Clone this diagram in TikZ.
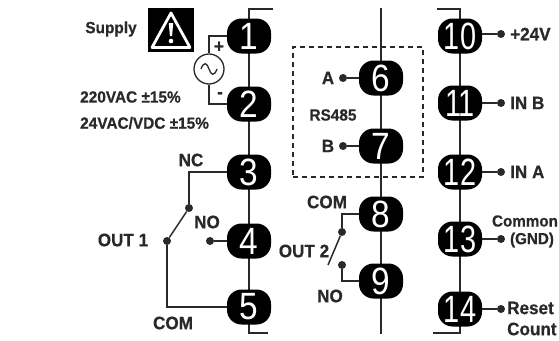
\documentclass[tikz,border=0pt]{standalone}
\usepackage{fontspec}
\setmainfont{Liberation Sans}[BoldFeatures={FakeBold=0.6,FakeStretch=0.95}]
\definecolor{ink}{HTML}{2B2829}
\tikzset{
  term/.style={fill=black,rounded corners=14.5pt,minimum width=44pt,minimum height=35pt,inner sep=0pt,text=white,font=\fontsize{38}{38}\selectfont},
  wire/.style={draw=ink,line width=1.5pt},
  dotn/.style={circle,fill=ink,minimum size=8pt,inner sep=0pt},
  lab/.style={inner sep=0pt,text=ink,font=\fontsize{18}{19}\bfseries\selectfont},
  labm/.style={inner sep=0pt,text=ink,font=\fontsize{16.2}{17}\bfseries\selectfont},
  labs/.style={inner sep=0pt,text=ink,font=\fontsize{16}{17}\bfseries\selectfont},
}
\newcommand{\dg}[1]{\scalebox{0.88}[1]{#1}}
\newcommand{\dgg}[1]{\scalebox{0.76}[1]{#1}}
\begin{document}
\begin{tikzpicture}[x=1pt,y=-1pt]
\useasboundingbox (0,0) rectangle (559,340);
% dashed frame
\node[draw=ink,line width=1.3pt,minimum width=130pt,minimum height=130pt,inner sep=0pt,dash pattern=on 5pt off 4pt] (rsbox) at (358,112) {};
% stub coordinates
\coordinate (ltop) at (249,9); \coordinate (ltopr) at (273,9);
\coordinate (lbot) at (249,333); \coordinate (lbotr) at (268,333);
\coordinate (mtop) at (381,8); \coordinate (mbot) at (381,334);
\coordinate (rtop) at (460,9); \coordinate (rtopl) at (437,9);
\coordinate (rbot) at (460,333); \coordinate (rbotl) at (433,333);
% spines
\draw[wire] (ltopr) -- (ltop) -- (lbot) -- (lbotr);
\draw[wire] (mtop) -- (mbot);
\draw[wire] (rtopl) -- (rtop) -- (rbot) -- (rbotl);
% terminals
\node[term] (t1) at (249,36) {\dg{1}};
\node[term] (t2) at (249,104) {\dg{2}};
\node[term] (t3) at (249,172) {\dg{3}};
\node[term] (t4) at (249,241) {\dg{4}};
\node[term] (t5) at (249,307) {\dg{5}};
\node[term] (t6) at (381,78) {\dg{6}};
\node[term] (t7) at (381,146) {\dg{7}};
\node[term] (t8) at (381,214) {\dg{8}};
\node[term] (t9) at (381,281) {\dg{9}};
\node[term] (t10) at (460,36) {\dgg{10}};
\node[term] (t11) at (460,103) {\dgg{11}};
\node[term] (t12) at (460,172) {\dgg{12}};
\node[term] (t13) at (460,239) {\dgg{13}};
\node[term] (t14) at (460,309) {\dgg{14}};
% warning sign
\node[fill=black,minimum width=46pt,minimum height=44pt,inner sep=0pt] (warn) at (171,30) {};
\draw[white,line width=2.8pt,line join=round] (171,13) -- (190,47.5) -- (152,47.5) -- cycle;
\fill[white] (168.8,23) -- (173.2,23) -- (172.1,36) -- (169.9,36) -- cycle;
\fill[white] (171,41) circle (2.3pt);
% supply
\node[circle,draw=ink,line width=1.3pt,minimum size=30pt,inner sep=0pt,fill=white] (ac) at (209,69) {};
\draw[ink,line width=1.3pt] (201,69) .. controls (204,61) and (207,63) .. (209,69) .. controls (211,75) and (214,77) .. (217,69);
\draw[wire] (t1.west) -| (ac.north);
\draw[wire] (t2.west) -| (ac.south);
\node[lab] (plus) at (219,47) {+};
\node[lab] (minus) at (220,95) {-};
\node[labm] (supply) at (111,29) {Supply};
\node[labm,anchor=west] (v220) at (80,97) {220VAC ±15\%};
\node[labm,anchor=west] (v24) at (80,123) {24VAC/VDC ±15\%};
% out 1
\node[dotn] (o1nc) at (189,208) {};
\node[dotn] (o1c) at (167,241) {};
\node[dotn] (o1no) at (210,241) {};
\draw[wire] (t3.west) -| (o1nc);
\draw[wire] (o1nc) -- (o1c);
\draw[wire] (o1no) -- (t4);
\draw[wire] (o1c) |- (t5.west);
\node[lab] (nc) at (191,160) {NC};
\node[lab] (no1) at (207,222) {NO};
\node[lab] (out1) at (123,240) {OUT 1};
\node[lab] (com1) at (173,323) {COM};
% rs485
\node[dotn] (da) at (343,78) {};
\node[dotn] (db) at (343,146) {};
\draw[wire] (da) -- (t6);
\draw[wire] (db) -- (t7);
\node[lab] (la) at (328,78) {A};
\node[lab] (lb) at (328,146) {B};
\node[labm] (rs) at (333,115) {RS485};
% out 2
\node[dotn] (o2c) at (342,232) {};
\node[dotn] (o2no) at (342,265) {};
\coordinate (o2end) at (328,265);
\draw[wire] (t8.west) -| (o2c);
\draw[wire] (t9.west) -| (o2no);
\draw[wire] (o2c) -- (o2end);
\node[lab] (com2) at (327,202) {COM};
\node[lab] (out2) at (304,251) {OUT 2};
\node[lab] (no2) at (330,296) {NO};
% right side
\node[dotn] (d10) at (501,34) {};
\node[dotn] (d11) at (501,103) {};
\node[dotn] (d12) at (501,172) {};
\node[dotn] (d13) at (501,239) {};
\node[dotn] (d14) at (501,309) {};
\draw[wire] (t10.east |- d10) -- (d10);
\draw[wire] (t11) -- (d11);
\draw[wire] (t12) -- (d12);
\draw[wire] (t13) -- (d13);
\draw[wire] (t14) -- (d14);
\node[lab,anchor=west] (l10) at (510,34) {+24V};
\node[lab,anchor=west] (l11) at (510,103) {IN B};
\node[lab,anchor=west] (l12) at (510,172) {IN A};
\node[labs] (l13a) at (525,221) {Common};
\node[labs] (l13b) at (532,240) {(GND)};
\node[lab,anchor=west] (l14a) at (507,308) {Reset};
\node[lab,anchor=west] (l14b) at (507,329) {Count};
\end{tikzpicture}
\end{document}
